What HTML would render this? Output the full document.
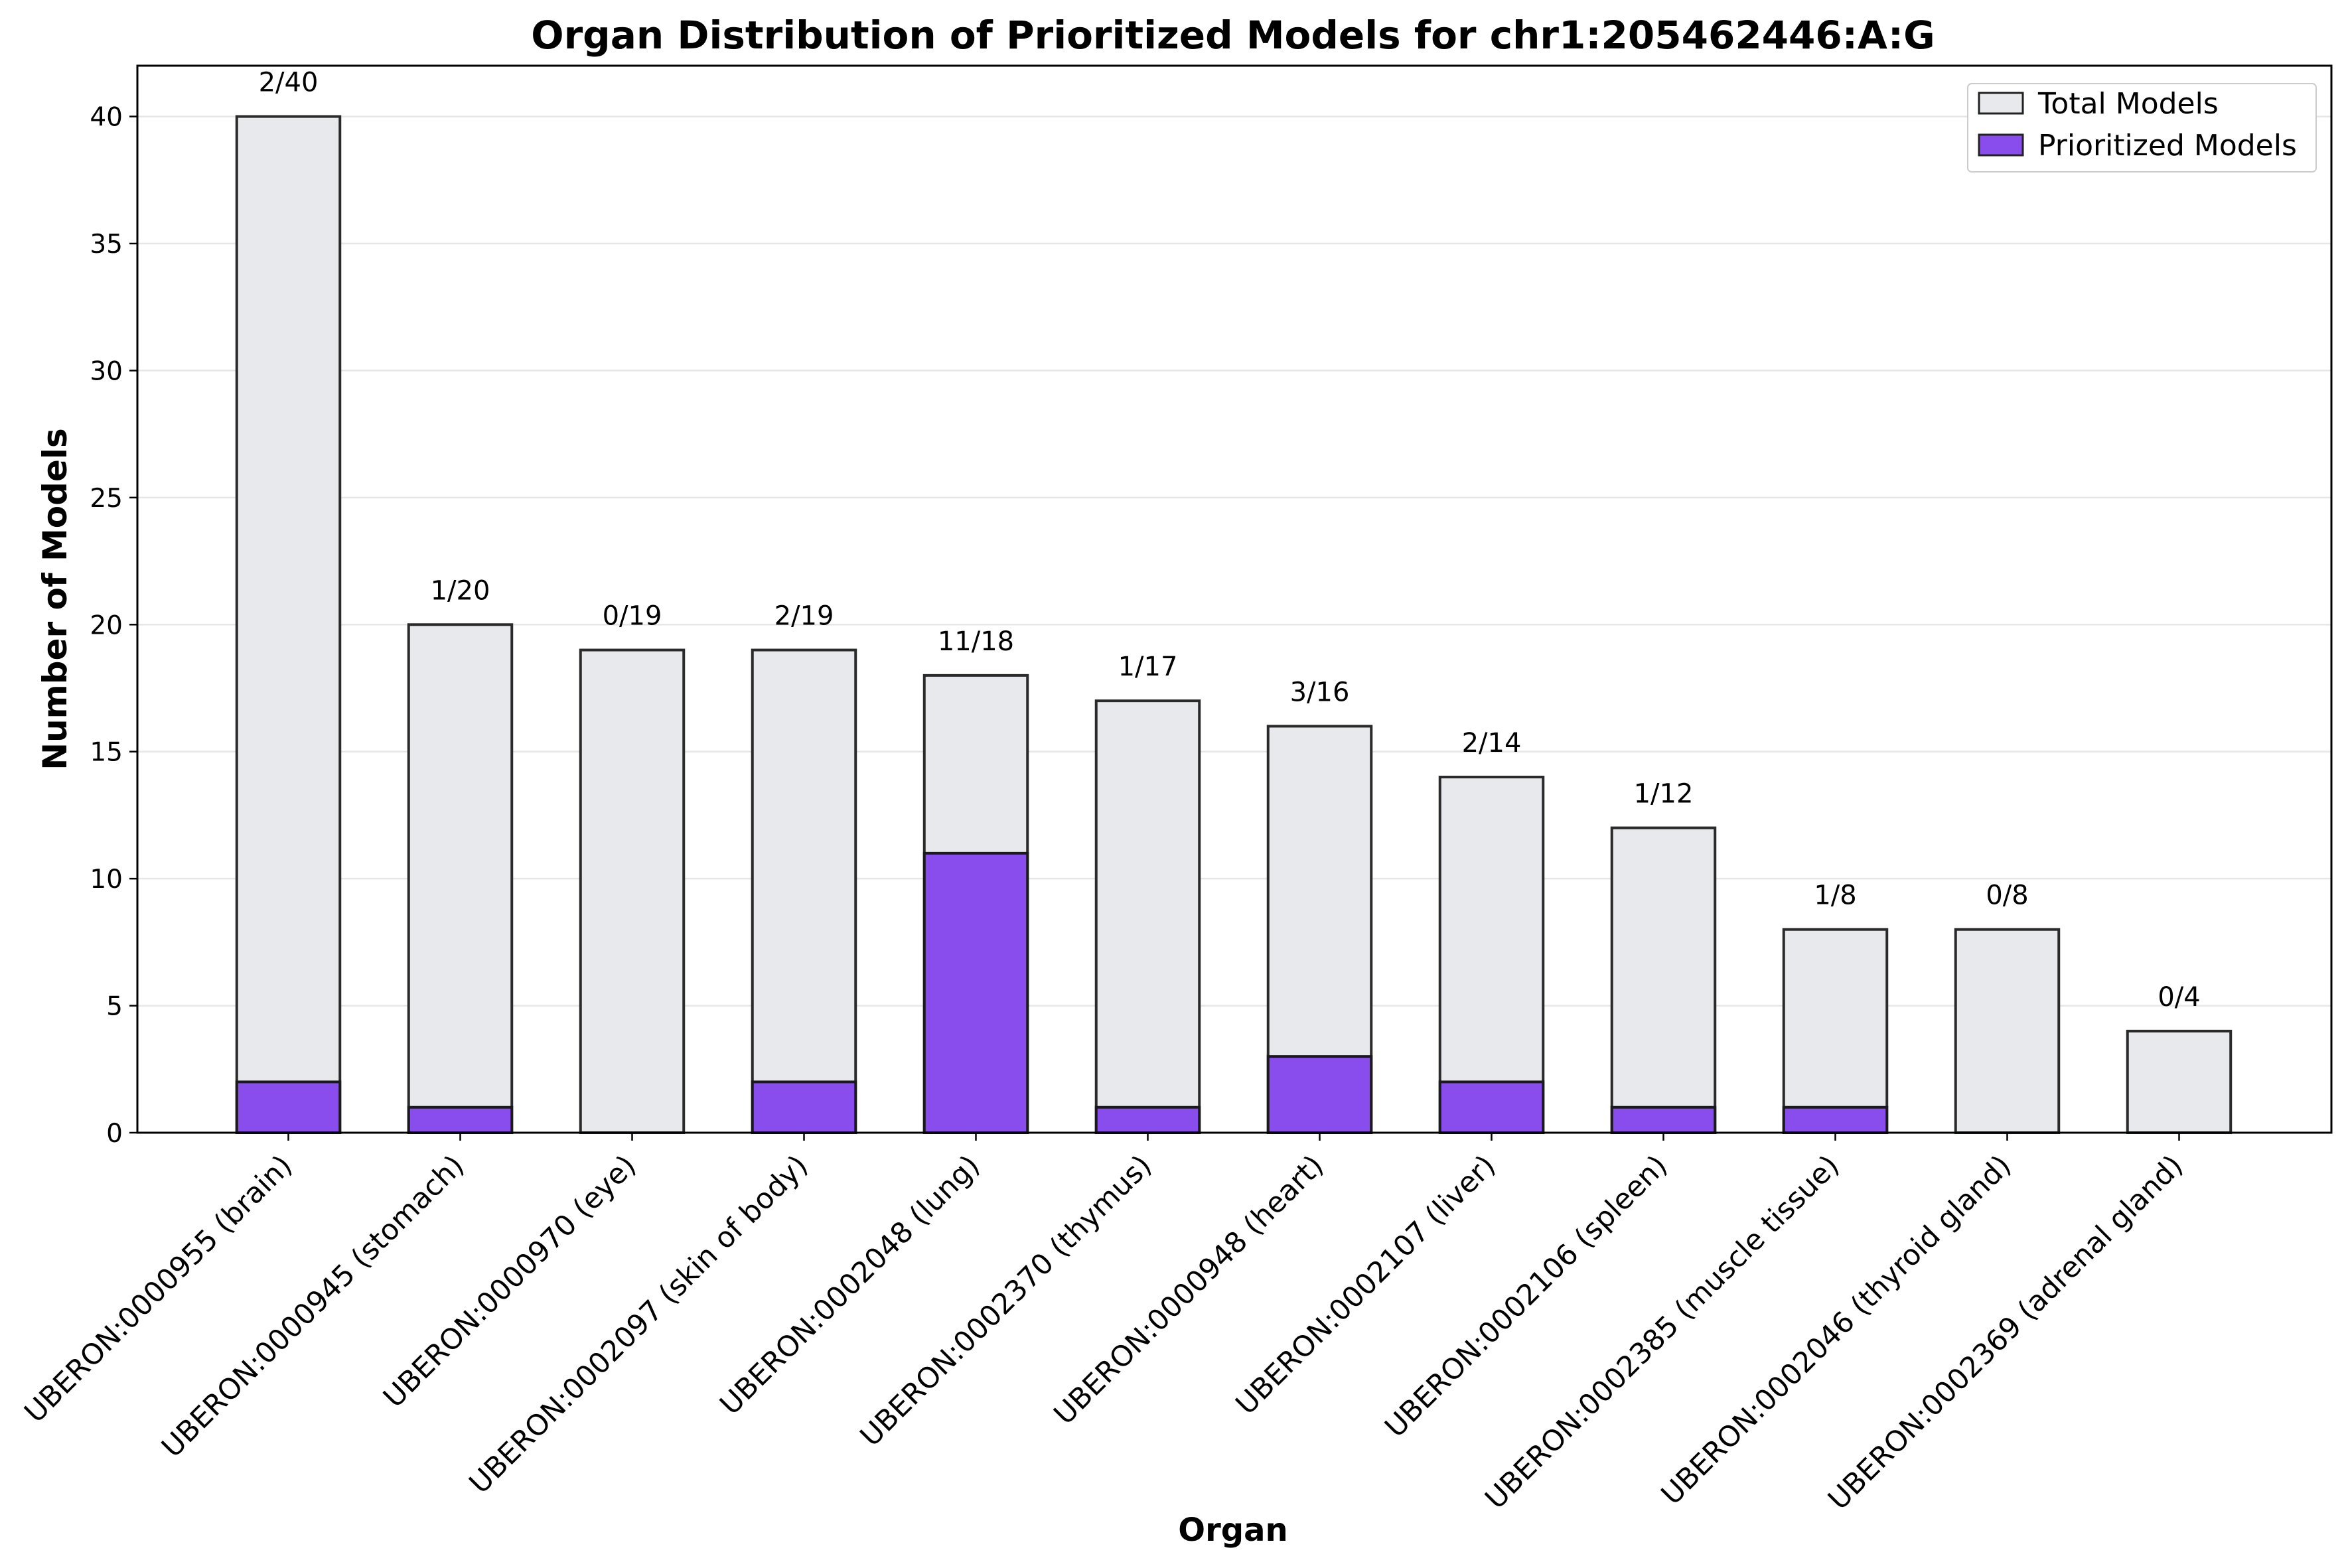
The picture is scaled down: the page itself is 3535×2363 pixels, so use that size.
<!DOCTYPE html>
<html><head><meta charset="utf-8"><style>body{margin:0;background:#fff}svg{display:block}text{font-family:"DejaVu Sans","Liberation Sans",sans-serif}</style></head>
<body>
<svg id="chart" width="3535" height="2363" xmlns="http://www.w3.org/2000/svg">
<rect width="3535" height="2363" fill="#fff"/>
<text x="1858" y="73" font-size="58" font-weight="bold" text-anchor="middle">Organ Distribution of Prioritized Models for chr1:205462446:A:G</text>
<text transform="translate(100,903) rotate(-90)" font-size="50" font-weight="bold" text-anchor="middle">Number of Models</text>
<text x="1858" y="2322" font-size="48" font-weight="bold" text-anchor="middle">Organ</text>
<g id="grid"></g><g id="bars"></g><g id="axes"></g>
<g>
<rect x="2965" y="126" width="525" height="133" fill="#fff" stroke="#ccc" stroke-width="2" rx="6"/>
<rect x="2982" y="140" width="66" height="31" fill="#e8e9ec" stroke="#222" stroke-width="3"/>
<text x="3071" y="171" font-size="44">Total Models</text>
<rect x="2982" y="203" width="66" height="31" fill="#8a4ded" stroke="#222" stroke-width="3"/>
<text x="3071" y="234" font-size="44">Prioritized Models</text>
</g>
</svg>
<script>
const categories=["UBERON:0000955 (brain)","UBERON:0000945 (stomach)","UBERON:0000970 (eye)","UBERON:0002097 (skin of body)","UBERON:0002048 (lung)","UBERON:0002370 (thymus)","UBERON:0000948 (heart)","UBERON:0002107 (liver)","UBERON:0002106 (spleen)","UBERON:0002385 (muscle tissue)","UBERON:0002046 (thyroid gland)","UBERON:0002369 (adrenal gland)"];
const totalModels=[40,20,19,19,18,17,16,14,12,8,8,4];
const prioritizedModels=[2,1,0,2,11,1,3,2,1,1,0,0];
const yTicks=[0,5,10,15,20,25,30,35,40];
const NS="http://www.w3.org/2000/svg";
const L=207,R=3513,T=99,B=1707,ymax=42;
const x0=434.5,step=259,bw=155.5;
function xs(i){return x0+i*step;}
function ys(v){return B-(v/ymax)*(B-T);}
function mk(tag,attrs,parent,txt){const e=document.createElementNS(NS,tag);for(const k in attrs)e.setAttribute(k,attrs[k]);if(txt!==undefined)e.textContent=txt;parent.appendChild(e);return e;}
const grid=document.getElementById('grid'),bars=document.getElementById('bars'),axes=document.getElementById('axes');
yTicks.forEach(v=>{
 const g=mk('line',{x1:L,x2:R,y1:ys(v),y2:ys(v),stroke:'#e6e6e6','stroke-width':2.5},grid);
 
 
 const t=mk('line',{x1:L-12,x2:L,y1:ys(v),y2:ys(v),stroke:'#000','stroke-width':2.5},axes);
 
 
 const lb=mk('text',{x:L-22,y:ys(v)+14,'font-size':39,'text-anchor':'end'},axes,String(v));
 
 
});
categories.forEach((c,i)=>{
 const cx=xs(i);
 const tb=mk('rect',{x:cx-bw/2,y:ys(totalModels[i]),width:bw,height:ys(0)-ys(totalModels[i]),fill:'#e8e9ec',stroke:'#2a2a2a','stroke-width':4},bars);
 
 
 if(prioritizedModels[i]>0){
  const pb=mk('rect',{x:cx-bw/2,y:ys(prioritizedModels[i]),width:bw,height:ys(0)-ys(prioritizedModels[i]),fill:'#8a4ded',stroke:'#1a1a1a','stroke-width':4},bars);
  
  
 }
 const vl=mk('text',{x:cx,y:ys(totalModels[i])-38,'font-size':40,'text-anchor':'middle'},bars,prioritizedModels[i]+'/'+totalModels[i]);
 
 
 const tk=mk('line',{x1:cx,x2:cx,y1:B,y2:B+12,stroke:'#000','stroke-width':2.5},axes);
 
 
 const xl=mk('text',{transform:`translate(${cx+8},${B+52}) rotate(-45)`,'font-size':43,'text-anchor':'end'},axes,c);
 
 
});
const fr=mk('rect',{x:L,y:T,width:R-L,height:B-T,fill:'none',stroke:'#000','stroke-width':3},axes);


</script>
</body></html>
